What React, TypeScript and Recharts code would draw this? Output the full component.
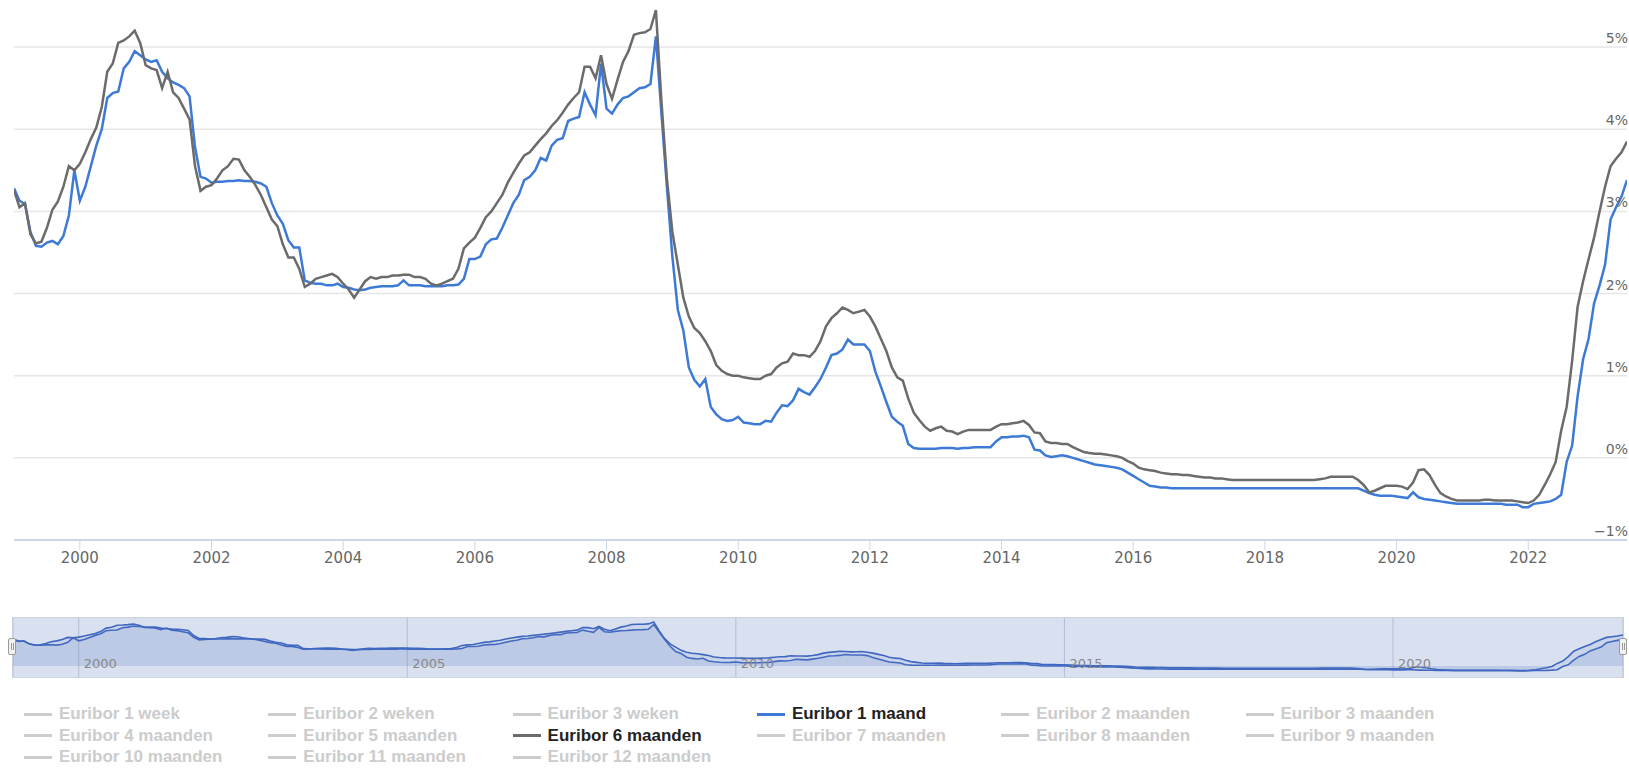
import { LineChart, Line, AreaChart, Area, XAxis, YAxis, CartesianGrid } from "recharts";

// monthly values, first point = jan 1999, last point = end of june 2023
const START_YEAR = 1999;

const euribor1m = [
    3.28, 3.13, 3.09, 2.75, 2.58, 2.57, 2.62, 2.64, 2.6, 2.7, 2.95, 3.5, // 1999
    3.13, 3.3, 3.55, 3.8, 4.0, 4.38, 4.44, 4.46, 4.74, 4.82, 4.95, 4.9, // 2000
    4.85, 4.82, 4.84, 4.7, 4.62, 4.57, 4.54, 4.5, 4.4, 3.78, 3.42, 3.4, // 2001
    3.35, 3.36, 3.36, 3.37, 3.37, 3.38, 3.37, 3.37, 3.36, 3.34, 3.3, 3.1, // 2002
    2.95, 2.85, 2.65, 2.56, 2.56, 2.16, 2.13, 2.12, 2.12, 2.1, 2.1, 2.12, // 2003
    2.08, 2.07, 2.05, 2.04, 2.05, 2.07, 2.08, 2.09, 2.09, 2.09, 2.1, 2.16, // 2004
    2.1, 2.1, 2.1, 2.09, 2.09, 2.09, 2.09, 2.1, 2.1, 2.11, 2.18, 2.42, // 2005
    2.42, 2.45, 2.6, 2.66, 2.67, 2.8, 2.95, 3.1, 3.2, 3.38, 3.42, 3.5, // 2006
    3.65, 3.62, 3.8, 3.87, 3.89, 4.1, 4.13, 4.15, 4.45, 4.3, 4.17, 4.8, // 2007
    4.25, 4.19, 4.3, 4.38, 4.4, 4.45, 4.5, 4.51, 4.55, 5.13, 4.2, 3.3, // 2008
    2.45, 1.8, 1.55, 1.1, 0.95, 0.87, 0.96, 0.62, 0.53, 0.47, 0.45, 0.46, // 2009
    0.5, 0.43, 0.42, 0.41, 0.41, 0.45, 0.44, 0.55, 0.64, 0.63, 0.7, 0.84, // 2010
    0.8, 0.77, 0.86, 0.96, 1.1, 1.25, 1.27, 1.32, 1.44, 1.38, 1.38, 1.38, // 2011
    1.3, 1.05, 0.87, 0.68, 0.5, 0.44, 0.39, 0.17, 0.12, 0.11, 0.11, 0.11, // 2012
    0.11, 0.12, 0.12, 0.12, 0.11, 0.12, 0.12, 0.13, 0.13, 0.13, 0.13, 0.2, // 2013
    0.25, 0.25, 0.26, 0.26, 0.27, 0.25, 0.1, 0.09, 0.03, 0.01, 0.02, 0.03, // 2014
    0.02, 0.0, -0.02, -0.04, -0.06, -0.08, -0.09, -0.1, -0.11, -0.12, -0.14, -0.18, // 2015
    -0.22, -0.26, -0.3, -0.34, -0.35, -0.36, -0.36, -0.37, -0.37, -0.37, -0.37, -0.37, // 2016
    -0.37, -0.37, -0.37, -0.37, -0.37, -0.37, -0.37, -0.37, -0.37, -0.37, -0.37, -0.37, // 2017
    -0.37, -0.37, -0.37, -0.37, -0.37, -0.37, -0.37, -0.37, -0.37, -0.37, -0.37, -0.37, // 2018
    -0.37, -0.37, -0.37, -0.37, -0.37, -0.37, -0.4, -0.43, -0.45, -0.46, -0.46, -0.46, // 2019
    -0.47, -0.48, -0.49, -0.42, -0.48, -0.5, -0.51, -0.52, -0.53, -0.54, -0.55, -0.56, // 2020
    -0.56, -0.56, -0.56, -0.56, -0.56, -0.56, -0.56, -0.56, -0.57, -0.57, -0.57, -0.6, // 2021
    -0.6, -0.56, -0.55, -0.54, -0.53, -0.5, -0.45, -0.05, 0.15, 0.75, 1.2, 1.45, // 2022
    1.88, 2.1, 2.35, 2.9, 3.05, 3.18, 3.38, // 2023
];

const euribor6m = [
    3.26, 3.05, 3.1, 2.72, 2.61, 2.63, 2.8, 3.02, 3.12, 3.3, 3.55, 3.5, // 1999
    3.58, 3.72, 3.88, 4.02, 4.27, 4.7, 4.8, 5.05, 5.08, 5.13, 5.2, 5.05, // 2000
    4.78, 4.74, 4.72, 4.5, 4.7, 4.45, 4.38, 4.25, 4.12, 3.55, 3.25, 3.3, // 2001
    3.32, 3.4, 3.5, 3.55, 3.64, 3.63, 3.5, 3.42, 3.32, 3.2, 3.05, 2.9, // 2002
    2.82, 2.6, 2.44, 2.44, 2.3, 2.08, 2.12, 2.18, 2.2, 2.22, 2.24, 2.2, // 2003
    2.12, 2.05, 1.95, 2.05, 2.15, 2.2, 2.18, 2.2, 2.2, 2.22, 2.22, 2.23, // 2004
    2.23, 2.2, 2.2, 2.18, 2.12, 2.1, 2.12, 2.15, 2.18, 2.3, 2.55, 2.62, // 2005
    2.68, 2.8, 2.93, 3.0, 3.1, 3.2, 3.35, 3.47, 3.58, 3.68, 3.72, 3.8, // 2006
    3.88, 3.95, 4.04, 4.11, 4.2, 4.3, 4.38, 4.45, 4.76, 4.76, 4.62, 4.9, // 2007
    4.55, 4.37, 4.6, 4.82, 4.95, 5.15, 5.17, 5.18, 5.22, 5.45, 4.35, 3.4, // 2008
    2.75, 2.35, 1.95, 1.72, 1.58, 1.52, 1.42, 1.3, 1.13, 1.06, 1.02, 1.0, // 2009
    1.0, 0.98, 0.97, 0.96, 0.96, 1.0, 1.02, 1.1, 1.15, 1.17, 1.27, 1.25, // 2010
    1.25, 1.23, 1.3, 1.42, 1.6, 1.7, 1.76, 1.83, 1.8, 1.76, 1.78, 1.8, // 2011
    1.72, 1.6, 1.45, 1.3, 1.1, 0.98, 0.94, 0.72, 0.55, 0.46, 0.38, 0.33, // 2012
    0.36, 0.38, 0.33, 0.32, 0.29, 0.32, 0.34, 0.34, 0.34, 0.34, 0.34, 0.38, // 2013
    0.41, 0.41, 0.42, 0.43, 0.45, 0.4, 0.31, 0.3, 0.2, 0.18, 0.18, 0.17, // 2014
    0.17, 0.13, 0.1, 0.07, 0.06, 0.05, 0.05, 0.04, 0.03, 0.02, 0.0, -0.04, // 2015
    -0.07, -0.12, -0.14, -0.15, -0.16, -0.18, -0.19, -0.2, -0.2, -0.21, -0.21, -0.22, // 2016
    -0.23, -0.24, -0.24, -0.25, -0.25, -0.26, -0.27, -0.27, -0.27, -0.27, -0.27, -0.27, // 2017
    -0.27, -0.27, -0.27, -0.27, -0.27, -0.27, -0.27, -0.27, -0.27, -0.27, -0.26, -0.25, // 2018
    -0.23, -0.23, -0.23, -0.23, -0.23, -0.27, -0.33, -0.42, -0.4, -0.37, -0.34, -0.34, // 2019
    -0.34, -0.35, -0.38, -0.3, -0.15, -0.14, -0.21, -0.33, -0.43, -0.47, -0.5, -0.52, // 2020
    -0.52, -0.52, -0.52, -0.52, -0.51, -0.51, -0.52, -0.52, -0.52, -0.52, -0.53, -0.54, // 2021
    -0.55, -0.52, -0.45, -0.33, -0.2, -0.05, 0.33, 0.62, 1.18, 1.84, 2.15, 2.42, // 2022
    2.68, 3.0, 3.3, 3.55, 3.64, 3.72, 3.85, // 2023
];

const yearTicks = [2000, 2002, 2004, 2006, 2008, 2010, 2012, 2014, 2016, 2018, 2020, 2022];
const navTicks = [2000, 2005, 2010, 2015, 2020];
const percentTicks = [-1, 0, 1, 2, 3, 4, 5];

const legendItems = [
    "Euribor 1 week", "Euribor 2 weken", "Euribor 3 weken", "Euribor 1 maand", "Euribor 2 maanden", "Euribor 3 maanden",
    "Euribor 4 maanden", "Euribor 5 maanden", "Euribor 6 maanden", "Euribor 7 maanden", "Euribor 8 maanden", "Euribor 9 maanden",
    "Euribor 10 maanden", "Euribor 11 maanden", "Euribor 12 maanden",
];

const BLUE = "#3d7ad6";
const GREY = "#6b6b6b";
const activeColors: Record<string, string> = {
    "Euribor 1 maand": BLUE,
    "Euribor 6 maanden": GREY,
};

const data = euribor1m.map((v, i) => ({
    t: START_YEAR + i / 12,
    m1: v,
    m6: euribor6m[i],
}));

const FONT = "'DejaVu Sans', sans-serif";

const YearTick = (props: any) => {
    const { x, y, payload } = props;
    return (
        <text x={x} y={y + 11} textAnchor="middle" fill="#666" fontSize={15} fontFamily={FONT}>
            {payload.value}
        </text>
    );
};

const PercentTick = (props: any) => {
    const { x, y, payload } = props;
    const label = payload.value < 0 ? `\u2212${Math.abs(payload.value)}%` : `${payload.value}%`;
    return (
        <text x={x + 1} y={y - 4} textAnchor="end" fill="#666" fontSize={14} fontFamily={FONT}>
            {label}
        </text>
    );
};

const NavTick = (props: any) => {
    const { x, y, payload } = props;
    return (
        <text x={x + 5} y={y - 9} textAnchor="start" fill="#888" fontSize={13} fontFamily={FONT}>
            {payload.value}
        </text>
    );
};

const Handle = ({ left }: { left: number }) => (
    <div
        style={{
            position: "absolute", left, top: 638, width: 8, height: 17,
            background: "#f2f2f2", border: "1px solid #999", borderRadius: 2,
            boxSizing: "border-box",
        }}
    >
        <div style={{ position: "absolute", left: 2, top: 4, width: 1, height: 7, background: "#999" }} />
        <div style={{ position: "absolute", left: 4, top: 4, width: 1, height: 7, background: "#999" }} />
    </div>
);

const App = () => {
    return (
        <div style={{ position: "absolute", left: 0, top: 0, width: 1629, height: 772, background: "#fff", overflow: "hidden" }}>

            {/* main chart */}
            <div style={{ position: "absolute", left: 0, top: 0 }}>
                <LineChart width={1629} height={580} data={data} margin={{ top: 6, right: 2, bottom: 0, left: 14 }}>
                    <CartesianGrid vertical={false} horizontalValues={percentTicks} stroke="#e6e6e6" strokeWidth={1.5} />
                    <XAxis
                        dataKey="t"
                        type="number"
                        domain={[1999, 2023.5]}
                        ticks={yearTicks}
                        allowDataOverflow
                        height={40}
                        axisLine={{ stroke: "#ccd6eb", strokeWidth: 2 }}
                        tickLine={{ stroke: "#ccd6eb" }}
                        tickSize={10}
                        tick={<YearTick />}
                    />
                    <YAxis
                        orientation="right"
                        mirror
                        width={1}
                        type="number"
                        domain={[-1, 5.5]}
                        ticks={percentTicks}
                        allowDataOverflow
                        axisLine={false}
                        tickLine={false}
                        tickSize={0}
                        tickMargin={0}
                        tick={<PercentTick />}
                    />
                    <Line type="linear" dataKey="m1" stroke={BLUE} strokeWidth={2.5} dot={false} isAnimationActive={false} />
                    <Line type="linear" dataKey="m6" stroke={GREY} strokeWidth={2.5} dot={false} isAnimationActive={false} />
                </LineChart>
            </div>

            {/* navigator */}
            <div
                style={{
                    position: "absolute", left: 12, top: 617, width: 1612, height: 61,
                    background: "#d9e0f0", borderTop: "1px solid #cfd3dc", borderBottom: "1px solid #cfd3dc",
                    boxSizing: "border-box",
                }}
            >
                <AreaChart width={1612} height={59} data={data} margin={{ top: 0, right: 1, bottom: 0, left: 1 }}>
                    <CartesianGrid horizontal={false} stroke="#b5bdd3" strokeWidth={1} />
                    <XAxis
                        dataKey="t"
                        type="number"
                        domain={[1999, 2023.5]}
                        ticks={navTicks}
                        allowDataOverflow
                        mirror
                        axisLine={false}
                        tickLine={false}
                        tickSize={0}
                        tickMargin={0}
                        tick={<NavTick />}
                    />
                    <YAxis hide type="number" domain={[(min: number) => min - 0.75, (max: number) => max + 0.5]} allowDataOverflow />
                    <Area type="linear" dataKey="m1" stroke="#3f67c0" strokeWidth={1.6} fill="#6685c2" fillOpacity={0.12} dot={false} isAnimationActive={false} />
                    <Area type="linear" dataKey="m6" stroke="#3f67c0" strokeWidth={1.6} fill="#6685c2" fillOpacity={0.12} dot={false} isAnimationActive={false} />
                </AreaChart>
            </div>
            <Handle left={8} />
            <Handle left={1619} />

            {/* legend */}
            <div style={{ position: "absolute", left: 24, top: 703, width: 1600 }}>
                {legendItems.map((name, i) => {
                    const color = activeColors[name];
                    return (
                        <div
                            key={name}
                            style={{
                                position: "absolute",
                                left: (i % 6) * 244.3,
                                top: Math.floor(i / 6) * 21.7,
                                height: 22,
                                display: "flex",
                                alignItems: "center",
                                whiteSpace: "nowrap",
                                fontFamily: "'Liberation Sans', Arial, sans-serif",
                                fontWeight: "bold",
                                fontSize: 17,
                                color: color ? "#222" : "#cccccc",
                            }}
                        >
                            <span style={{ display: "inline-block", width: 28, height: 3, background: color || "#cccccc", marginRight: 7 }} />
                            {name}
                        </div>
                    );
                })}
            </div>
        </div>
    );
};

export default App;
